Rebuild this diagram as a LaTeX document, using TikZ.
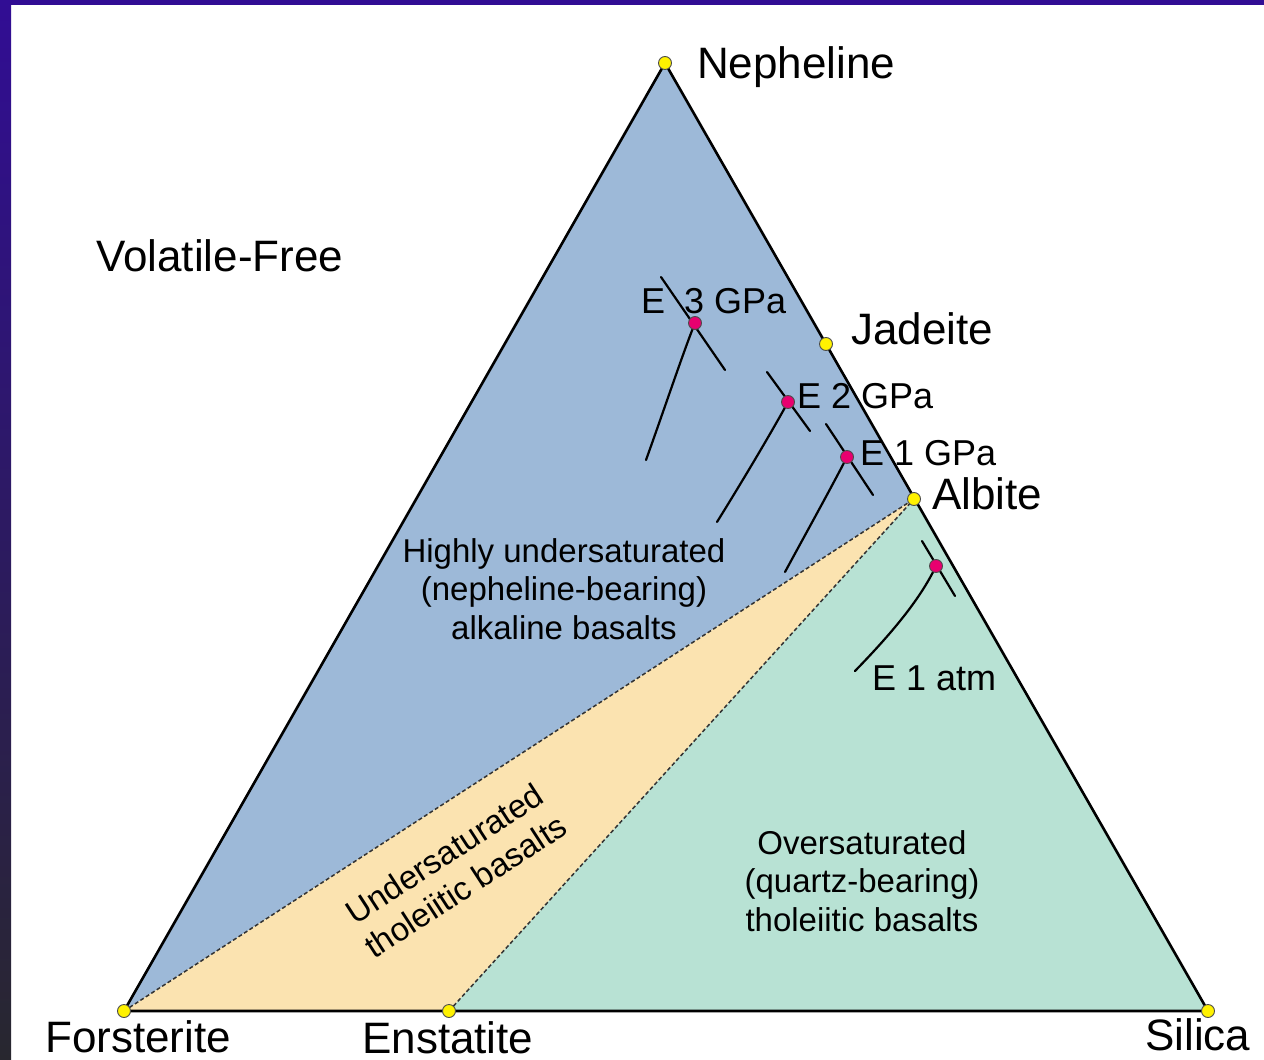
\documentclass[tikz,border=0pt]{standalone}
\usepackage{fontspec}
\setmainfont{Liberation Sans}
\definecolor{regblue}{HTML}{9DB9D8}
\definecolor{regyellow}{HTML}{FBE3B0}
\definecolor{reggreen}{HTML}{B8E2D4}
\definecolor{dotyellow}{HTML}{FFF200}
\definecolor{dotmag}{HTML}{E8006F}
\definecolor{framepurple}{HTML}{310D94}
\definecolor{framemid}{HTML}{2D1C70}
\definecolor{framedark}{HTML}{28272F}
\begin{document}
\begin{tikzpicture}[x=1pt,y=-1pt,
  bigtxt/.style={font=\fontsize{44}{50}\selectfont, inner sep=0pt, anchor=base west},
  etxt/.style={font=\fontsize{36}{40}\selectfont, inner sep=0pt, anchor=base west},
  regtxt/.style={font=\fontsize{33}{38.5}\selectfont, inner sep=0pt, align=center},
  ydot/.style={circle, draw=black!70, line width=0.9pt, fill=dotyellow, minimum size=13pt, inner sep=0pt},
  mdot/.style={circle, draw=black!70, line width=0.9pt, fill=dotmag, minimum size=13pt, inner sep=0pt},
  edge/.style={line width=2.6pt, line join=round},
  boundary/.style={line width=1.5pt, black!80, dash pattern=on 4pt off 2.5pt},
  cotectic/.style={line width=2.2pt, line cap=round}
]
\useasboundingbox (0,0) rectangle (1264,1060);
\fill[white] (0,0) rectangle (1264,1060);
% frame
\shade[top color=framepurple, middle color=framemid, bottom color=framedark] (0,0) rectangle (11,1060);
\fill[framepurple] (0,0) rectangle (1264,5);

% vertices
\coordinate (N) at (665,63);
\coordinate (F) at (124,1011);
\coordinate (S) at (1208,1011);
\coordinate (En) at (449,1011);
\coordinate (Ab) at (914,499);
\coordinate (Jd) at (826,344);

% regions
\fill[regblue] (N) -- (F) -- (Ab) -- cycle;
\fill[regyellow] (F) -- (Ab) -- (En) -- cycle;
\fill[reggreen] (En) -- (Ab) -- (S) -- cycle;

% boundaries
\draw[boundary] (F) -- (Ab);
\draw[boundary] (En) -- (Ab);

% triangle edges
\draw[edge] (N) -- (F) -- (S) -- cycle;

% cotectic lines
\coordinate (e3) at (695,323);
\coordinate (e2) at (788,402);
\coordinate (e1) at (847,457);
\coordinate (ea) at (936,566);
\coordinate (e3a) at (661,277); \coordinate (e3b) at (725,370); \coordinate (e3c) at (646,460);
\coordinate (e2a) at (767,372); \coordinate (e2b) at (810,431); \coordinate (e2c) at (717,522);
\coordinate (e1a) at (826,424); \coordinate (e1b) at (873,495); \coordinate (e1c) at (785,572);
\coordinate (eaa) at (922,541); \coordinate (eab) at (955,596); \coordinate (eac) at (855,671);
\draw[cotectic] (e3a) -- (e3b);
\draw[cotectic] (e3) .. controls (684,350) and (664,410) .. (e3c);
\draw[cotectic] (e2a) -- (e2b);
\draw[cotectic] (e2) .. controls (770,435) and (740,485) .. (e2c);
\draw[cotectic] (e1a) -- (e1b);
\draw[cotectic] (e1) .. controls (830,490) and (805,535) .. (e1c);
\draw[cotectic] (eaa) -- (eab);
\draw[cotectic] (ea) .. controls (920,600) and (890,635) .. (eac);

% dots
\node[ydot] (nep) at (N) {};
\node[ydot] (for) at (F) {};
\node[ydot] (sil) at (S) {};
\node[ydot] (ens) at (En) {};
\node[ydot] (alb) at (Ab) {};
\node[ydot] (jad) at (Jd) {};
\node[mdot] (m3) at (e3) {};
\node[mdot] (m2) at (e2) {};
\node[mdot] (m1) at (e1) {};
\node[mdot] (ma) at (ea) {};

% labels
\node[bigtxt] (lnep) at (697,78) {Nepheline};
\node[bigtxt] (ljad) at (851,344) {Jadeite};
\node[bigtxt] (lalb) at (932,509) {Albite};
\node[bigtxt] (lvol) at (96,271) {Volatile-Free};
\node[bigtxt] (lfor) at (45,1052) {Forsterite};
\node[bigtxt] (lens) at (362,1053) {Enstatite};
\node[bigtxt] (lsil) at (1145,1050) {Silica};

\node[etxt] (l3) at (641,313) {E\hspace{19pt}3 GPa};
\node[etxt] (l2) at (797,408) {E 2 GPa};
\node[etxt] (l1) at (860,465) {E 1 GPa};
\node[etxt] (la) at (872,690) {E 1 atm};

\node[regtxt] (rblue) at (564,589) {Highly undersaturated\\(nepheline-bearing)\\alkaline basalts};
\node[regtxt] (rgreen) at (862,881) {Oversaturated\\(quartz-bearing)\\tholeiitic basalts};
\node[regtxt, rotate=33] (ryellow) at (455,870) {Undersaturated\\tholeiitic basalts};
\end{tikzpicture}
\end{document}
